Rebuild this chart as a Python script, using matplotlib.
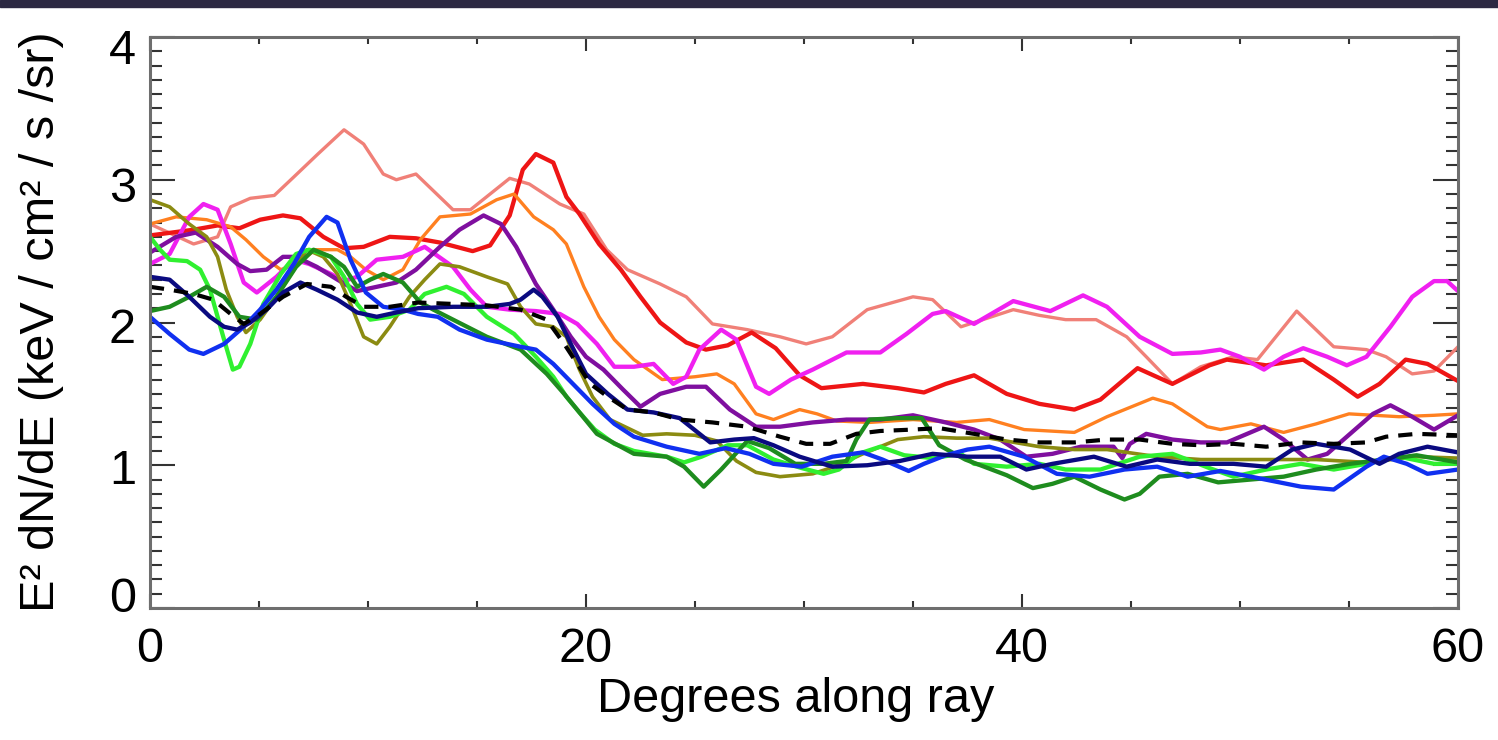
import matplotlib
matplotlib.use("Agg")
import matplotlib.pyplot as plt
from matplotlib.patches import Rectangle
from matplotlib.ticker import MultipleLocator
from matplotlib.transforms import ScaledTranslation

plt.rcParams["font.family"] = ["Liberation Sans", "DejaVu Sans"]

# degrees along ray / E^2 dN/dE
salmon_x = [0, 2.0, 3.1, 3.7, 4.6, 5.7, 6.6, 7.7, 8.9, 9.8, 10.7, 11.3, 12.2, 13.9, 14.7, 16.5, 17.4,
            18.8, 19.9, 20.95, 21.9, 23.4, 24.6, 25.8, 27.4, 28.9, 30.1, 31.3, 32.9, 35.0, 35.9, 37.2,
            39.6, 40.8, 42.0, 43.4, 44.8, 45.7, 46.9, 48.2, 49.7, 50.8, 52.6, 54.3, 55.8, 56.7, 57.9,
            58.9, 60.0]
salmon_y = [2.69, 2.55, 2.60, 2.81, 2.87, 2.89, 3.02, 3.18, 3.35, 3.25, 3.04, 3.00, 3.04, 2.79, 2.79,
            3.01, 2.97, 2.83, 2.76, 2.51, 2.37, 2.27, 2.18, 1.99, 1.95, 1.90, 1.85, 1.90, 2.09, 2.18,
            2.16, 1.97, 2.09, 2.05, 2.02, 2.02, 1.90, 1.76, 1.57, 1.69, 1.76, 1.74, 2.08, 1.83, 1.81,
            1.76, 1.64, 1.66, 1.83]

red_x = [0, 2.0, 3.1, 4.1, 5.05, 6.1, 6.9, 7.95, 8.9, 9.8, 11.0, 12.2, 13.3, 14.8, 15.6, 16.5, 17.1,
         17.7, 18.5, 19.1, 19.7, 20.6, 21.6, 22.5, 23.4, 24.6, 25.5, 26.5, 27.6, 28.7, 29.8, 30.8,
         32.7, 34.3, 35.5, 36.5, 37.8, 39.3, 40.8, 42.4, 43.6, 45.3, 46.9, 48.6, 49.4, 51.2, 52.9,
         54.3, 55.4, 56.4, 57.6, 58.6, 60.0]
red_y = [2.61, 2.65, 2.68, 2.66, 2.72, 2.75, 2.73, 2.60, 2.52, 2.53, 2.60, 2.59, 2.56, 2.50, 2.54,
         2.75, 3.07, 3.18, 3.12, 2.88, 2.76, 2.55, 2.37, 2.18, 2.00, 1.86, 1.81, 1.84, 1.93, 1.82,
         1.63, 1.54, 1.57, 1.54, 1.51, 1.57, 1.63, 1.50, 1.43, 1.39, 1.46, 1.68, 1.57, 1.70, 1.74,
         1.70, 1.74, 1.60, 1.48, 1.57, 1.74, 1.71, 1.59]

orange_x = [0, 1.2, 2.6, 3.7, 4.4, 5.2, 6.0, 6.7, 7.6, 8.6, 9.2, 9.9, 10.7, 11.6, 12.4, 13.3, 14.7,
            15.9, 16.7, 17.6, 18.5, 19.1, 19.9, 20.6, 21.3, 22.2, 23.5, 25.0, 26.0, 26.8, 27.8, 28.6,
            29.8, 30.6, 31.5, 33.0, 35.0, 37.0, 38.5, 40.1, 42.4, 43.9, 46.0, 46.9, 48.5, 49.1, 50.5,
            52.0, 53.5, 55.0, 57.3, 58.9, 60.0]
orange_y = [2.69, 2.74, 2.72, 2.67, 2.58, 2.46, 2.37, 2.41, 2.51, 2.51, 2.46, 2.37, 2.30, 2.37, 2.58,
            2.74, 2.76, 2.86, 2.90, 2.74, 2.65, 2.55, 2.25, 2.04, 1.88, 1.74, 1.60, 1.62, 1.64, 1.57,
            1.36, 1.32, 1.39, 1.36, 1.31, 1.30, 1.32, 1.30, 1.32, 1.25, 1.23, 1.34, 1.47, 1.43, 1.27,
            1.25, 1.29, 1.23, 1.29, 1.36, 1.34, 1.35, 1.36]

magenta_x = [0, 0.9, 1.8, 2.45, 3.1, 3.7, 4.3, 4.9, 5.8, 6.6, 7.3, 8.3, 8.9, 9.5, 10.4, 11.6, 12.6,
             13.9, 14.7, 15.45, 16.5, 17.7, 18.8, 19.6, 20.5, 21.3, 22.2, 23.1, 24.0, 24.6, 25.2,
             26.2, 26.9, 27.8, 28.4, 29.4, 30.4, 31.95, 33.5, 34.7, 35.9, 36.5, 37.8, 39.6, 41.3,
             42.8, 43.9, 45.4, 46.9, 48.2, 49.1, 50.0, 51.1, 52.0, 52.9, 54.0, 54.9, 55.8, 56.9,
             57.9, 58.9, 59.5, 60.0]
magenta_y = [2.41, 2.48, 2.74, 2.83, 2.79, 2.55, 2.28, 2.21, 2.32, 2.44, 2.41, 2.34, 2.29, 2.32,
             2.44, 2.46, 2.53, 2.39, 2.23, 2.11, 2.09, 2.08, 2.06, 1.99, 1.85, 1.69, 1.69, 1.71,
             1.57, 1.62, 1.81, 1.95, 1.88, 1.55, 1.50, 1.60, 1.67, 1.79, 1.79, 1.92, 2.06, 2.08,
             1.99, 2.15, 2.08, 2.19, 2.11, 1.90, 1.78, 1.79, 1.81, 1.76, 1.67, 1.76, 1.82, 1.76,
             1.70, 1.76, 1.97, 2.18, 2.29, 2.29, 2.22]

purple_x = [0, 1.2, 2.1, 3.1, 4.0, 4.6, 5.35, 6.1, 6.7, 7.65, 8.6, 9.5, 10.4, 11.3, 12.2, 13.3, 14.2,
            15.3, 16.1, 16.8, 17.7, 18.5, 19.3, 20.0, 20.8, 21.7, 22.5, 23.4, 24.6, 25.5, 26.6, 27.8,
            28.9, 30.4, 31.95, 33.5, 35.0, 36.5, 37.8, 39.0, 40.2, 41.4, 42.7, 44.2, 44.6, 44.95,
            45.7, 46.9, 48.2, 49.4, 51.1, 52.0, 53.1, 54.0, 55.05, 56.1, 56.9, 57.9, 58.9, 60.0]
purple_y = [2.49, 2.60, 2.63, 2.53, 2.41, 2.36, 2.37, 2.46, 2.46, 2.39, 2.30, 2.22, 2.25, 2.28, 2.37,
            2.53, 2.65, 2.75, 2.69, 2.53, 2.27, 2.09, 1.90, 1.76, 1.67, 1.53, 1.41, 1.50, 1.55, 1.55,
            1.39, 1.27, 1.27, 1.30, 1.32, 1.32, 1.35, 1.30, 1.25, 1.18, 1.06, 1.08, 1.13, 1.13, 1.05,
            1.15, 1.22, 1.18, 1.16, 1.16, 1.27, 1.18, 1.04, 1.08, 1.22, 1.36, 1.42, 1.34, 1.25, 1.35]

olive_x = [0, 0.9, 1.8, 2.6, 3.1, 3.5, 4.0, 4.4, 5.05, 5.8, 6.6, 7.2, 7.95, 8.6, 9.2, 9.8, 10.4, 11.0,
           11.9, 12.6, 13.3, 14.2, 15.45, 16.4, 17.0, 17.7, 18.5, 19.1, 19.7, 20.3, 21.1, 22.6, 23.7,
           25.0, 26.0, 26.9, 27.8, 28.9, 30.4, 31.4, 32.7, 34.3, 35.5, 37.0, 38.5, 40.8, 42.4, 43.9,
           46.2, 48.2, 51.2, 53.5, 55.8, 58.1, 60.0]
olive_y = [2.86, 2.81, 2.69, 2.60, 2.46, 2.23, 2.04, 1.93, 2.02, 2.18, 2.37, 2.51, 2.46, 2.34, 2.13,
           1.90, 1.85, 1.97, 2.18, 2.30, 2.41, 2.39, 2.32, 2.27, 2.11, 1.99, 1.97, 1.90, 1.67, 1.48,
           1.32, 1.21, 1.22, 1.21, 1.17, 1.03, 0.95, 0.92, 0.94, 0.99, 1.08, 1.18, 1.20, 1.19, 1.19,
           1.13, 1.11, 1.11, 1.06, 1.04, 1.04, 1.04, 1.02, 1.06, 1.05]

lime_x = [0, 0.46, 0.9, 1.7, 2.3, 2.75, 3.36, 3.8, 4.1, 4.6, 5.2, 6.0, 6.7, 7.3, 8.3, 8.9, 9.5, 10.1,
          11.0, 11.9, 12.6, 13.6, 14.4, 15.45, 16.7, 17.7, 18.5, 19.1, 19.7, 20.4, 21.3, 22.2, 23.7,
          24.5, 25.3, 26.5, 27.4, 28.6, 29.9, 30.9, 31.6, 32.5, 33.5, 34.6, 35.9, 37.2, 37.8, 39.3,
          40.8, 42.0, 43.6, 45.4, 46.9, 48.6, 49.7, 51.2, 52.8, 54.3, 55.8, 57.3, 58.9, 60.0]
lime_y = [2.60, 2.51, 2.44, 2.43, 2.37, 2.23, 1.90, 1.67, 1.69, 1.85, 2.13, 2.34, 2.48, 2.51, 2.46,
          2.32, 2.13, 2.02, 2.04, 2.09, 2.20, 2.25, 2.20, 2.04, 1.92, 1.76, 1.62, 1.48, 1.37, 1.25,
          1.15, 1.10, 1.06, 1.02, 1.06, 1.14, 1.14, 1.04, 0.98, 0.94, 0.97, 1.08, 1.13, 1.07, 1.05,
          1.08, 1.01, 0.99, 1.01, 0.97, 0.97, 1.06, 1.08, 0.98, 0.92, 0.97, 1.01, 0.97, 1.01, 1.06,
          1.01, 1.01]

dkgreen_x = [0, 0.9, 1.8, 2.6, 3.4, 4.1, 4.9, 5.8, 6.7, 7.5, 8.3, 8.9, 9.5, 10.1, 10.7, 11.6, 12.4,
             13.0, 13.9, 15.45, 17.0, 18.2, 19.0, 19.7, 20.5, 22.2, 23.7, 24.5, 25.4, 26.2, 27.4,
             28.4, 29.6, 30.9, 31.95, 32.4, 33.0, 34.3, 35.4, 36.2, 37.4, 39.3, 40.5, 41.4, 42.4,
             43.6, 44.7, 45.4, 46.3, 47.6, 49.0, 50.5, 52.0, 53.5, 55.05, 56.6, 58.1, 60.0]
dkgreen_y = [2.08, 2.11, 2.18, 2.25, 2.18, 2.04, 2.02, 2.18, 2.39, 2.51, 2.46, 2.39, 2.25, 2.30,
             2.34, 2.28, 2.14, 2.09, 2.02, 1.90, 1.81, 1.64, 1.50, 1.37, 1.22, 1.08, 1.06, 0.99,
             0.85, 0.97, 1.17, 1.12, 1.01, 1.01, 1.03, 1.18, 1.32, 1.33, 1.33, 1.14, 1.04, 0.93,
             0.84, 0.87, 0.92, 0.83, 0.76, 0.80, 0.92, 0.94, 0.88, 0.90, 0.92, 0.97, 1.01, 1.04,
             1.07, 1.02]

blue_x = [0, 0.9, 1.8, 2.45, 3.4, 4.3, 5.05, 5.8, 6.6, 7.3, 8.1, 8.6, 9.2, 9.9, 10.7, 11.6, 12.3,
          13.2, 14.2, 15.45, 17.0, 17.7, 18.5, 19.4, 20.3, 21.3, 22.2, 23.7, 25.2, 26.4, 27.5, 28.6,
          29.9, 31.3, 32.7, 33.6, 34.8, 35.5, 36.5, 37.5, 38.5, 40.1, 41.6, 43.1, 44.7, 46.2, 47.6,
          49.1, 50.5, 52.8, 54.3, 55.8, 56.6, 57.65, 58.6, 60.0]
blue_y = [2.04, 1.92, 1.81, 1.78, 1.85, 1.97, 2.09, 2.23, 2.41, 2.60, 2.74, 2.70, 2.44, 2.21, 2.11,
          2.09, 2.06, 2.04, 1.95, 1.88, 1.83, 1.81, 1.71, 1.57, 1.43, 1.29, 1.20, 1.13, 1.08, 1.12,
          1.08, 1.01, 0.99, 1.06, 1.09, 1.04, 0.96, 1.01, 1.07, 1.11, 1.13, 1.06, 0.94, 0.92, 0.97,
          0.99, 0.92, 0.96, 0.92, 0.85, 0.83, 0.99, 1.06, 1.01, 0.94, 0.97]

navy_x = [0, 0.9, 1.8, 2.75, 3.4, 4.0, 4.6, 5.35, 6.1, 6.9, 7.65, 8.6, 9.5, 10.4, 11.3, 12.3, 13.9,
          15.45, 16.5, 17.0, 17.6, 18.0, 18.7, 19.3, 20.0, 21.0, 21.9, 23.1, 24.3, 25.7, 26.8, 27.7,
          28.6, 29.8, 31.3, 32.9, 34.4, 35.9, 37.5, 39.0, 40.2, 41.4, 43.3, 44.8, 46.2, 47.7, 49.7,
          51.2, 52.4, 53.5, 55.05, 56.4, 57.3, 58.6, 60.0]
navy_y = [2.32, 2.30, 2.18, 2.04, 1.97, 1.95, 2.00, 2.09, 2.21, 2.28, 2.23, 2.16, 2.07, 2.04, 2.07,
          2.10, 2.11, 2.11, 2.13, 2.16, 2.23, 2.18, 2.04, 1.85, 1.64, 1.50, 1.39, 1.37, 1.33, 1.16,
          1.18, 1.19, 1.14, 1.06, 0.99, 1.00, 1.03, 1.08, 1.06, 1.06, 0.97, 1.01, 1.06, 0.99, 1.04,
          1.01, 1.01, 0.99, 1.11, 1.15, 1.11, 1.01, 1.08, 1.13, 1.09]

mean_x = [0, 0.9, 2.0, 2.9, 3.7, 4.3, 5.05, 6.1, 7.2, 8.3, 9.0, 9.8, 11.0, 12.3, 13.9, 15.45, 17.0,
          18.2, 19.0, 19.6, 20.2, 21.0, 21.9, 23.1, 24.3, 25.8, 27.4, 28.9, 30.1, 31.2, 32.4, 33.5,
          35.0, 36.2, 37.8, 39.3, 40.8, 42.4, 43.9, 45.4, 46.9, 48.2, 49.7, 51.2, 52.8, 54.3, 55.8,
          56.7, 58.1, 60.0]
mean_y = [2.25, 2.23, 2.20, 2.16, 2.06, 1.99, 2.06, 2.18, 2.27, 2.25, 2.18, 2.11, 2.11, 2.14, 2.13,
          2.12, 2.09, 2.02, 1.85, 1.71, 1.57, 1.48, 1.39, 1.37, 1.32, 1.30, 1.27, 1.20, 1.15, 1.15,
          1.22, 1.24, 1.25, 1.26, 1.22, 1.18, 1.16, 1.16, 1.18, 1.18, 1.15, 1.14, 1.15, 1.13, 1.16,
          1.15, 1.16, 1.20, 1.22, 1.21]

series = [
    (salmon_x, salmon_y, "#f08078", 2.4),
    (red_x, red_y, "#ee1515", 3.1),
    (orange_x, orange_y, "#ff8020", 2.4),
    (magenta_x, magenta_y, "#f020f0", 3.1),
    (purple_x, purple_y, "#7f0f9f", 3.1),
    (olive_x, olive_y, "#8b8b12", 2.6),
    (lime_x, lime_y, "#30f030", 3.1),
    (dkgreen_x, dkgreen_y, "#1e8c1e", 3.1),
    (blue_x, blue_y, "#1030f0", 3.1),
    (navy_x, navy_y, "#0a0a80", 3.1),
]

fig = plt.figure(figsize=(14.98, 7.40), dpi=100)
fig.patches.append(Rectangle((0, 1 - 7 / 740), 1, 7 / 740, transform=fig.transFigure,
                             color="#2c2942", zorder=0))
ax = fig.add_axes([150 / 1498, 1 - 608 / 740, (1458 - 150) / 1498, (608 - 37) / 740])

for x, y, color, lw in series:
    ax.plot(x, y, color=color, linewidth=lw, solid_joinstyle="round", solid_capstyle="round")
ax.plot(mean_x, mean_y, color="black", linewidth=3.0, dashes=(3.4, 2.4))

ax.set_xlim(0, 60)
ax.set_ylim(0, 4)
ax.xaxis.set_major_locator(MultipleLocator(20))
ax.xaxis.set_minor_locator(MultipleLocator(5))
ax.yaxis.set_major_locator(MultipleLocator(1))
ax.yaxis.set_minor_locator(MultipleLocator(0.1))
ax.tick_params(which="both", direction="in", top=True, right=True, colors="#333333",
               width=1.5, labelsize=35, labelcolor="black")
ax.tick_params(axis="y", which="major", length=18, pad=10)
ax.tick_params(axis="y", which="minor", length=8.5)
ax.tick_params(axis="x", which="major", length=10, pad=14)
ax.tick_params(axis="x", which="minor", length=5)
for spine in ax.spines.values():
    spine.set_color("#6e6e6e")
    spine.set_linewidth(2.2)

fig.text(796 / 1498, 1 - 700 / 740, "Degrees along ray", fontsize=35, ha="center", va="center")
fig.text(42 / 1498, 1 - 322 / 740, "E² dN/dE (keV / cm² / s /sr)", fontsize=35,
         rotation=90, ha="center", va="center")

# the end labels of the y axis sit inside the frame in the original
fig.canvas.draw()
label_shift_px = {0: 14, 1: -1, 2: -3, 3: -5, 4: -10}
for tick in ax.yaxis.get_major_ticks():
    value = int(round(tick.get_loc()))
    if value in label_shift_px:
        shift = ScaledTranslation(0, label_shift_px[value] / 100, fig.dpi_scale_trans)
        tick.label1.set_transform(tick.label1.get_transform() + shift)

fig.savefig("out.png", dpi=100)
